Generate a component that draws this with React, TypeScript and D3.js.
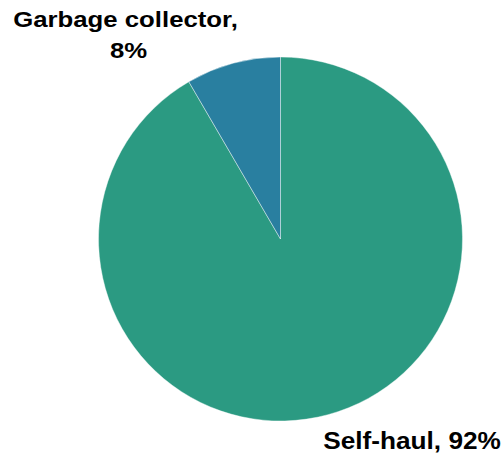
import React from "react";
import * as d3 from "d3";

const categories = ["Self-haul", "Garbage collector"];
const values = [91.6, 8.4];
const percentLabels = ["92%", "8%"];
const colors = ["#2b9a82", "#297fa0"];

const W = 502;
const H = 457;
const cx = 280.5;
const cy = 239;
const R = 182;

export default function App() {
  const pie = d3.pie<number>().sort(null).value((d) => d);
  const arcs = pie(values);
  const arcGen = d3.arc<d3.PieArcDatum<number>>().innerRadius(0).outerRadius(R);
  const font = "'Liberation Sans', Arial, Helvetica, sans-serif";
  return (
    <svg
      width={W}
      height={H}
      style={{ position: "absolute", left: 0, top: 0, display: "block" }}
    >
      <rect width={W} height={H} fill="#fff" />
      <g transform={`translate(${cx},${cy})`}>
        {arcs.map((a, i) => (
          <path
            key={categories[i]}
            d={arcGen(a) || ""}
            fill={colors[i]}
            stroke="#ffffff"
            strokeWidth={0.6}
            strokeOpacity={0.7}
          />
        ))}
      </g>
      <g fontFamily={font} fontWeight="bold" fontSize={23} fill="#000">
        <text transform="translate(125.5,27) scale(1.12,1)" textAnchor="middle">
          {`${categories[1]},`}
        </text>
        <text transform="translate(128.5,58) scale(1.12,1)" textAnchor="middle">
          {percentLabels[1]}
        </text>
        <text transform="translate(412,449) scale(1.14,1)" textAnchor="middle">
          {`${categories[0]}, ${percentLabels[0]}`}
        </text>
      </g>
    </svg>
  );
}
